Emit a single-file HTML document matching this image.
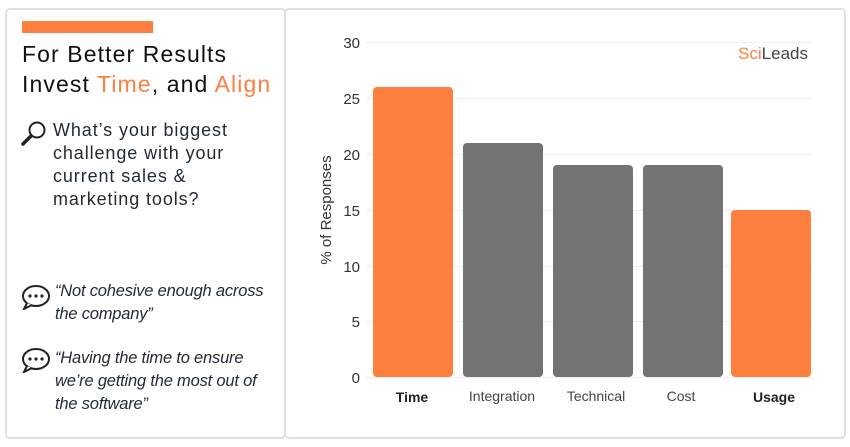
<!DOCTYPE html><html><head><style>
body{margin:0;width:850px;height:447px;background:#fff;font-family:"Liberation Sans",sans-serif;position:relative;overflow:hidden}
.p{position:absolute;border:2px solid #e0e0e0;border-radius:5px;box-sizing:border-box}
.t{position:absolute;white-space:nowrap}
</style></head><body>
<div class="p" style="left:5px;top:8px;width:281px;height:431px"></div>
<div class="p" style="left:284px;top:8px;width:562px;height:431px"></div>
<div style="position:absolute;left:22px;top:21px;width:131px;height:12px;background:#FF7F3F"></div>
<div class="t" style="left:22px;top:39px;font-size:23px;letter-spacing:1.1px;color:#111;line-height:30px">For Better Results<br>Invest <span style="color:#FF7F3F">Time</span>, and <span style="color:#FF7F3F">Align</span></div>
<svg style="position:absolute;left:20px;top:120px" width="28" height="26"><circle cx="17" cy="10" r="7.5" fill="none" stroke="#222" stroke-width="2"/><line x1="11" y1="16" x2="3" y2="24" stroke="#222" stroke-width="3.5" stroke-linecap="round"/></svg>
<div class="t" style="left:53px;top:119px;font-size:18px;letter-spacing:0.9px;color:#1f2a36;line-height:23px">What’s your biggest<br>challenge with your<br>current sales &amp;<br>marketing tools?</div>
<svg style="position:absolute;left:21px;top:284px" width="30" height="26"><ellipse cx="15" cy="12" rx="13" ry="10" fill="none" stroke="#222" stroke-width="2"/><path d="M6 19 L3 25 L11 21" fill="#fff" stroke="#222" stroke-width="2"/><circle cx="9" cy="12" r="1.6" fill="#222"/><circle cx="15" cy="12" r="1.6" fill="#222"/><circle cx="21" cy="12" r="1.6" fill="#222"/></svg>
<svg style="position:absolute;left:21px;top:347px" width="30" height="26"><ellipse cx="15" cy="12" rx="13" ry="10" fill="none" stroke="#222" stroke-width="2"/><path d="M6 19 L3 25 L11 21" fill="#fff" stroke="#222" stroke-width="2"/><circle cx="9" cy="12" r="1.6" fill="#222"/><circle cx="15" cy="12" r="1.6" fill="#222"/><circle cx="21" cy="12" r="1.6" fill="#222"/></svg>
<div class="t" style="left:55px;top:280px;font-size:16.5px;letter-spacing:-0.2px;font-style:italic;color:#1f2a36;line-height:23px">“Not cohesive enough across<br>the company”</div>
<div class="t" style="left:55px;top:347px;font-size:16.5px;letter-spacing:-0.2px;font-style:italic;color:#1f2a36;line-height:23px">“Having the time to ensure<br>we’re getting the most out of<br>the software”</div>
<svg style="position:absolute;left:0;top:0" width="850" height="447" font-family="Liberation Sans, sans-serif">
<g stroke="#eee" stroke-width="1">
<line x1="366" y1="42.5" x2="812" y2="42.5"/><line x1="366" y1="98.5" x2="812" y2="98.5"/><line x1="366" y1="154.5" x2="812" y2="154.5"/><line x1="366" y1="210.5" x2="812" y2="210.5"/><line x1="366" y1="266.5" x2="812" y2="266.5"/><line x1="366" y1="321.5" x2="812" y2="321.5"/><line x1="366" y1="377.5" x2="812" y2="377.5"/></g>
<g font-size="15" fill="#333" text-anchor="end">
<text x="360" y="48">30</text><text x="360" y="104">25</text><text x="360" y="160">20</text><text x="360" y="216">15</text><text x="360" y="272">10</text><text x="360" y="327">5</text><text x="360" y="383">0</text></g>
<text transform="translate(331,210) rotate(-90)" text-anchor="middle" font-size="15" fill="#333">% of Responses</text>
<text x="808" y="59" text-anchor="end" font-size="17"><tspan fill="#FF7F3F">Sci</tspan><tspan fill="#444">Leads</tspan></text>
<rect x="373" y="87" width="80" height="290" rx="4" fill="#FF7F3F"/>
<rect x="463" y="143" width="80" height="234" rx="4" fill="#737373"/>
<rect x="553" y="165" width="80" height="212" rx="4" fill="#737373"/>
<rect x="643" y="165" width="80" height="212" rx="4" fill="#737373"/>
<rect x="731" y="210" width="80" height="167" rx="4" fill="#FF7F3F"/>
<g font-size="14" text-anchor="middle" fill="#444">
<text x="412" y="402" font-weight="bold" fill="#222">Time</text>
<text x="502" y="401">Integration</text>
<text x="596" y="401">Technical</text>
<text x="681" y="401">Cost</text>
<text x="774" y="402" font-weight="bold" fill="#222">Usage</text></g>
</svg>
</body></html>
